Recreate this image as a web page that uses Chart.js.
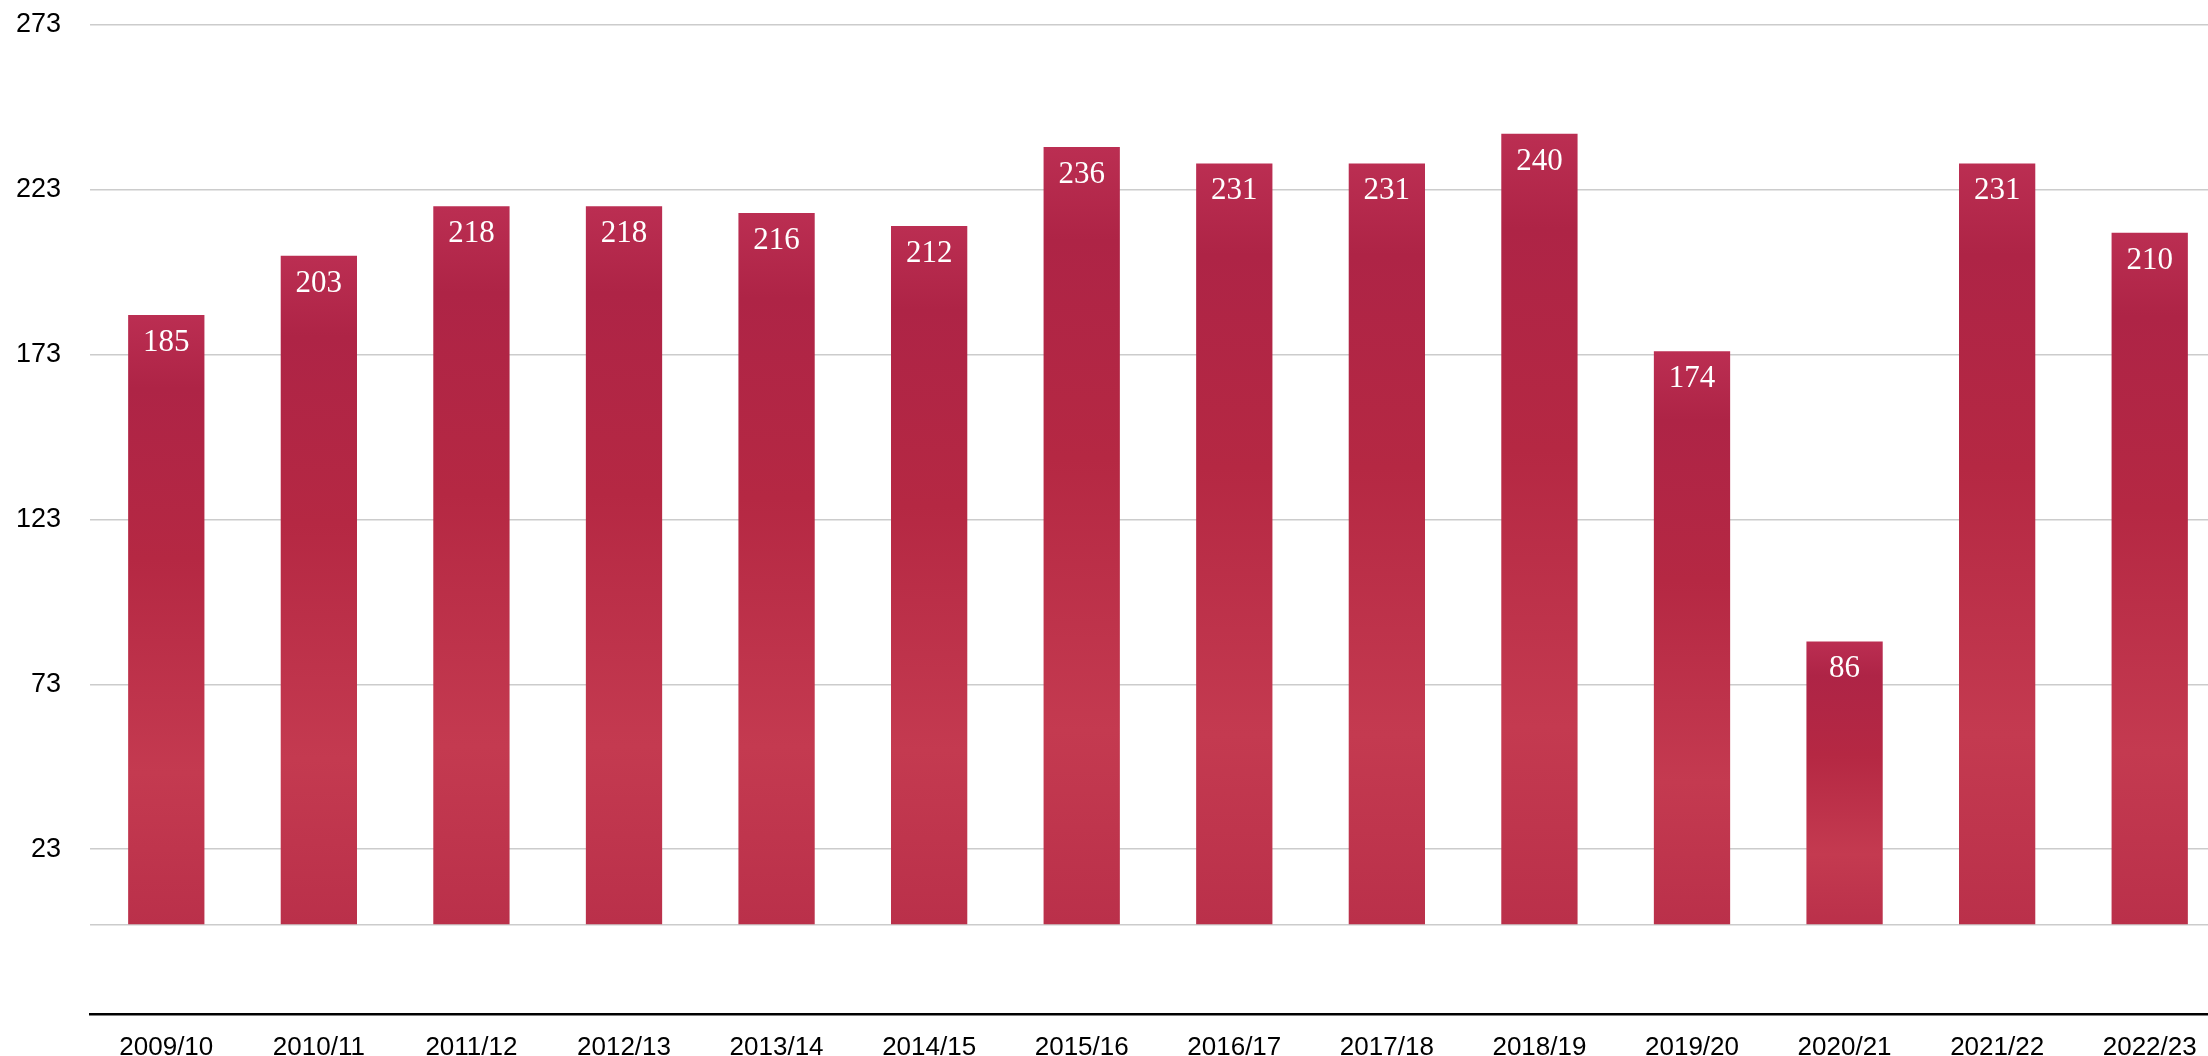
<!DOCTYPE html>
<html>
<head>
<meta charset="utf-8">
<script src="https://cdn.jsdelivr.net/npm/chart.js@4/dist/chart.umd.min.js"></script>
<style>
  html, body { margin: 0; padding: 0; background: #fff; overflow: hidden; }
  #wrap { position: relative; width: 2226px; height: 1056px; }
</style>
</head>
<body>
<div id="wrap"><canvas id="myChart"></canvas></div>
<script>
const seasons = ['2009/10', '2010/11', '2011/12', '2012/13', '2013/14', '2014/15', '2015/16',
                 '2016/17', '2017/18', '2018/19', '2019/20', '2020/21', '2021/22', '2022/23'];
const counts = [185, 203, 218, 218, 216, 212, 236, 231, 231, 240, 174, 86, 231, 210];
const yTicks = [0, 23, 73, 123, 173, 223, 273];

// bar fill: vertical gradient per bar, roughly the painted red texture
function barFill(context) {
    const chart = context.chart;
    if (!chart.chartArea) return '#b92d48';
    const y = chart.scales.y;
    const top = y.getPixelForValue(context.raw);
    const base = y.getPixelForValue(0);
    const g = chart.ctx.createLinearGradient(0, top, 0, base);
    g.addColorStop(0, '#bb2e52');
    g.addColorStop(0.12, '#ae2446');
    g.addColorStop(0.4, '#b52843');
    g.addColorStop(0.75, '#c43a50');
    g.addColorStop(1, '#ba304a');
    return g;
}

const valueLabels = {
    id: 'valueLabels',
    afterDatasetsDraw(chart) {
        const ctx = chart.ctx;
        const meta = chart.getDatasetMeta(0);
        ctx.save();
        ctx.fillStyle = '#ffffff';
        ctx.font = '31px "Liberation Serif", "Times New Roman", serif';
        ctx.textAlign = 'center';
        ctx.textBaseline = 'alphabetic';
        meta.data.forEach((bar, i) => {
            ctx.fillText(String(counts[i]), bar.x, bar.y + 36);
        });
        ctx.restore();
    }
};

new Chart(document.getElementById('myChart'), {
    type: 'bar',
    data: {
        labels: seasons,
        datasets: [{
            data: counts,
            backgroundColor: barFill,
            borderWidth: 0,
            barPercentage: 0.5,
            categoryPercentage: 1.0
        }]
    },
    options: {
        responsive: true,
        maintainAspectRatio: false,
        animation: false,
        layout: { padding: { top: 25, right: 0, bottom: 0, left: 0 } },
        plugins: {
            legend: { display: false },
            tooltip: { enabled: false }
        },
        scales: {
            x: {
                grid: { display: false, drawTicks: false },
                border: { display: true, color: '#000000', width: 2.5 },
                ticks: {
                    color: '#000000',
                    padding: 18,
                    maxRotation: 0,
                    font: { family: '"Liberation Sans", Arial, sans-serif', size: 26 }
                },
                afterFit(scale) { scale.height = 42; }
            },
            y: {
                min: -27,
                max: 273,
                afterBuildTicks(scale) {
                    scale.ticks = yTicks.map(v => ({ value: v }));
                },
                afterFit(scale) {
                    scale.width = 90;
                    scale.paddingTop = 0;
                    scale.paddingBottom = 0;
                },
                grid: { color: '#cccccc', lineWidth: 1.5, drawTicks: false },
                border: { display: false },
                ticks: {
                    color: '#000000',
                    padding: 29,
                    font: { family: '"Liberation Sans", Arial, sans-serif', size: 27 },
                    callback: function(value) {
                        return value === 0 ? '' : value;
                    }
                }
            }
        }
    },
    plugins: [valueLabels]
});
</script>
</body>
</html>
